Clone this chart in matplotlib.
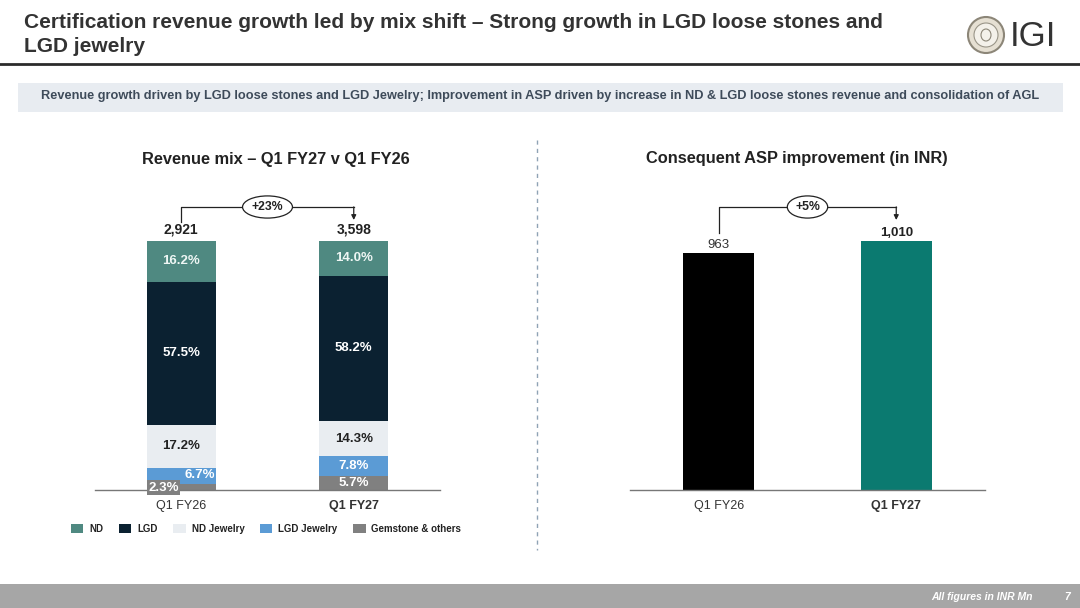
import matplotlib
matplotlib.use('Agg')
import matplotlib.pyplot as plt
from matplotlib.patches import Rectangle, Ellipse
from matplotlib.lines import Line2D

W, H = 1080, 608

# Data
periods = ['Q1 FY26', 'Q1 FY27']
segments = ['ND', 'LGD', 'ND Jewelry', 'LGD Jewelry', 'Gemstone & others']
mix_fy26 = [16.2, 57.5, 17.2, 6.7, 2.3]
mix_fy27 = [14.0, 58.2, 14.3, 7.8, 5.7]
revenue = [2921, 3598]
revenue_growth = '+23%'
asp = [963, 1010]
asp_growth = '+5%'

seg_colors = ['#4f8981', '#0b2131', '#e9edf1', '#5b9bd5', '#808080']
seg_text = ['#eef6f4', 'white', '#222222', 'white', 'white']
asp_colors = ['#000000', '#0b7a70']

SANS = ['Liberation Sans', 'DejaVu Sans']
plt.rcParams['font.family'] = SANS

fig = plt.figure(figsize=(W / 100, H / 100), dpi=100)


def fx(px):
    return px / W


def fy(py):
    return 1 - py / H


def px_axes(x0, y0, x1, y1):
    return fig.add_axes([fx(x0), fy(y1), (x1 - x0) / W, (y1 - y0) / H])


# ---------- header ----------
fig.text(fx(24), fy(22), 'Certification revenue growth led by mix shift \u2013 Strong growth in LGD loose stones and',
         fontsize=15, fontweight='bold', color='#333333', va='center')
fig.text(fx(24), fy(47), 'LGD jewelry', fontsize=15, fontweight='bold',
         color='#333333', va='center')
fig.add_artist(Line2D([0, 1], [fy(64), fy(64)], color='#2b2b2b', lw=2))

# logo
fig.add_artist(Ellipse((fx(986), fy(35)), 36 / W, 36 / H, transform=fig.transFigure,
                       fc='#e6e0d3', ec='#8c8678', lw=1.5))
fig.add_artist(Ellipse((fx(986), fy(35)), 24 / W, 24 / H, transform=fig.transFigure,
                       fc='#f4f1ea', ec='#9a9588', lw=0.8))
fig.add_artist(Ellipse((fx(986), fy(35)), 10 / W, 12 / H, transform=fig.transFigure,
                       fc='none', ec='#8c8678', lw=0.8))
fig.text(fx(1010), fy(37), 'IGI', fontsize=25, color='#333333', va='center')

# banner
fig.add_artist(Rectangle((fx(18), fy(112)), (1063 - 18) / W, 29 / H,
                         transform=fig.transFigure, fc='#e8ecf1', ec='none'))
fig.text(0.5, fy(96), 'Revenue growth driven by LGD loose stones and LGD Jewelry; Improvement in ASP driven by '
         'increase in ND & LGD loose stones revenue and consolidation of AGL',
         fontsize=9.2, fontweight='bold', color='#3e4b5a', ha='center', va='center')

# divider
fig.add_artist(Line2D([fx(537), fx(537)], [fy(140), fy(550)], color='#8fa3b5',
                      lw=1, linestyle=(0, (3, 3))))

# footer
fig.add_artist(Rectangle((0, 0), 1, 24 / H, transform=fig.transFigure, fc='#a6a6a6', ec='none'))
fig.text(fx(1033), fy(597), 'All figures in INR Mn', fontsize=7.5, fontstyle='italic',
         fontweight='bold', color='white', ha='right', va='center')
fig.text(fx(1070), fy(597), '7', fontsize=7.5, fontstyle='italic', fontweight='bold',
         color='white', ha='right', va='center')


def style_axes(ax):
    for s in ['top', 'right', 'left']:
        ax.spines[s].set_visible(False)
    ax.spines['bottom'].set_color('#777777')
    ax.spines['bottom'].set_linewidth(1)
    ax.set_yticks([])
    ax.set_xlim(-0.5, 1.5)
    ax.set_xticks([0, 1])
    ax.set_xticklabels(periods, fontsize=9, color='#333333')
    ax.get_xticklabels()[1].set_fontweight('bold')
    ax.tick_params(axis='x', length=0, pad=7)
    ax.patch.set_alpha(0)


def bracket(ax, x0, top0, x1, top1, text, pp, start_off):
    y_start = top0 + start_off * pp
    y_h = max(top0, top1) + 34 * pp
    y_end = top1 + 21 * pp
    ax.plot([x0, x0, x1], [y_start, y_h, y_h], color='#222222', lw=0.9, clip_on=False)
    ax.annotate('', xy=(x1, y_end), xytext=(x1, y_h + 0.1 * pp),
                arrowprops=dict(arrowstyle='-|>', lw=0.9, color='#222222',
                                mutation_scale=7, shrinkA=0, shrinkB=0),
                annotation_clip=False)
    ax.text((x0 + x1) / 2, y_h, text, fontsize=8.8, fontweight='bold', color='#222222',
            ha='center', va='center',
            bbox=dict(boxstyle='ellipse,pad=0.15', fc='white', ec='#222222', lw=0.9))


# ---------- left chart: revenue mix ----------
fig.text(fx(276), fy(160), 'Revenue mix \u2013 Q1 FY27 v Q1 FY26', fontsize=11.8,
         fontweight='bold', color='#222222', ha='center', va='center')

axL = px_axes(95, 195, 440, 490)
ytopL = 100 * 295 / 249
axL.set_ylim(0, ytopL)
ppL = ytopL / 295
style_axes(axL)
bw = 0.4
mixes = [mix_fy26, mix_fy27]
for i, mix in enumerate(mixes):
    bottom = 0
    for j in range(len(segments) - 1, -1, -1):
        v = mix[j]
        axL.bar(i, v, bw, bottom=bottom, color=seg_colors[j])
        mid = bottom + v / 2
        lbl = f'{v:.1f}%'
        if i == 0 and j == 4:
            axL.text(i - bw / 2 + 0.01, bottom + 1.0, lbl, fontsize=9.5, fontweight='bold',
                     color=seg_text[j], ha='left', va='center',
                     bbox=dict(boxstyle='square,pad=0.1', fc=seg_colors[j], ec='none'))
        elif i == 0 and j == 3:
            axL.text(i + bw / 2 - 0.005, mid + 0.3, lbl, fontsize=9.5, fontweight='bold',
                     color=seg_text[j], ha='right', va='center')
        else:
            axL.text(i, mid, lbl, fontsize=9.5, fontweight='bold', color=seg_text[j],
                     ha='center', va='center')
        bottom += v
    axL.text(i, 100 + 11 * ppL, f'{revenue[i]:,}', fontsize=10, fontweight='bold',
             color='#222222', ha='center', va='center')
bracket(axL, 0, 100, 1, 100, revenue_growth, ppL, 19)

# legend
handles = [Rectangle((0, 0), 1, 1, fc=c, ec='none') for c in seg_colors]
fig.legend(handles, segments, loc='center', bbox_to_anchor=(fx(266), fy(529)), ncol=5,
           frameon=False, prop={'size': 7, 'weight': 'bold'}, handlelength=1.3,
           handleheight=1.1, handletextpad=0.6, columnspacing=1.6, labelcolor='#222222')

# ---------- right chart: ASP ----------
fig.text(fx(797), fy(159), 'Consequent ASP improvement (in INR)', fontsize=11.8,
         fontweight='bold', color='#222222', ha='center', va='center')
axR = px_axes(630, 195, 985, 490)
ytopR = max(asp) * 295 / 249
axR.set_ylim(0, ytopR)
ppR = ytopR / 295
style_axes(axR)
axR.bar([0, 1], asp, bw, color=asp_colors)
for i, v in enumerate(asp):
    axR.text(i, v + 8 * ppR, f'{v:,}', fontsize=9.5, color='#333333' if i == 0 else '#222222',
             fontweight='normal' if i == 0 else 'bold', ha='center', va='center')
bracket(axR, 0, asp[0], 1, asp[1], asp_growth, ppR, 20)

fig.savefig('out.png', dpi=100, facecolor='white')
